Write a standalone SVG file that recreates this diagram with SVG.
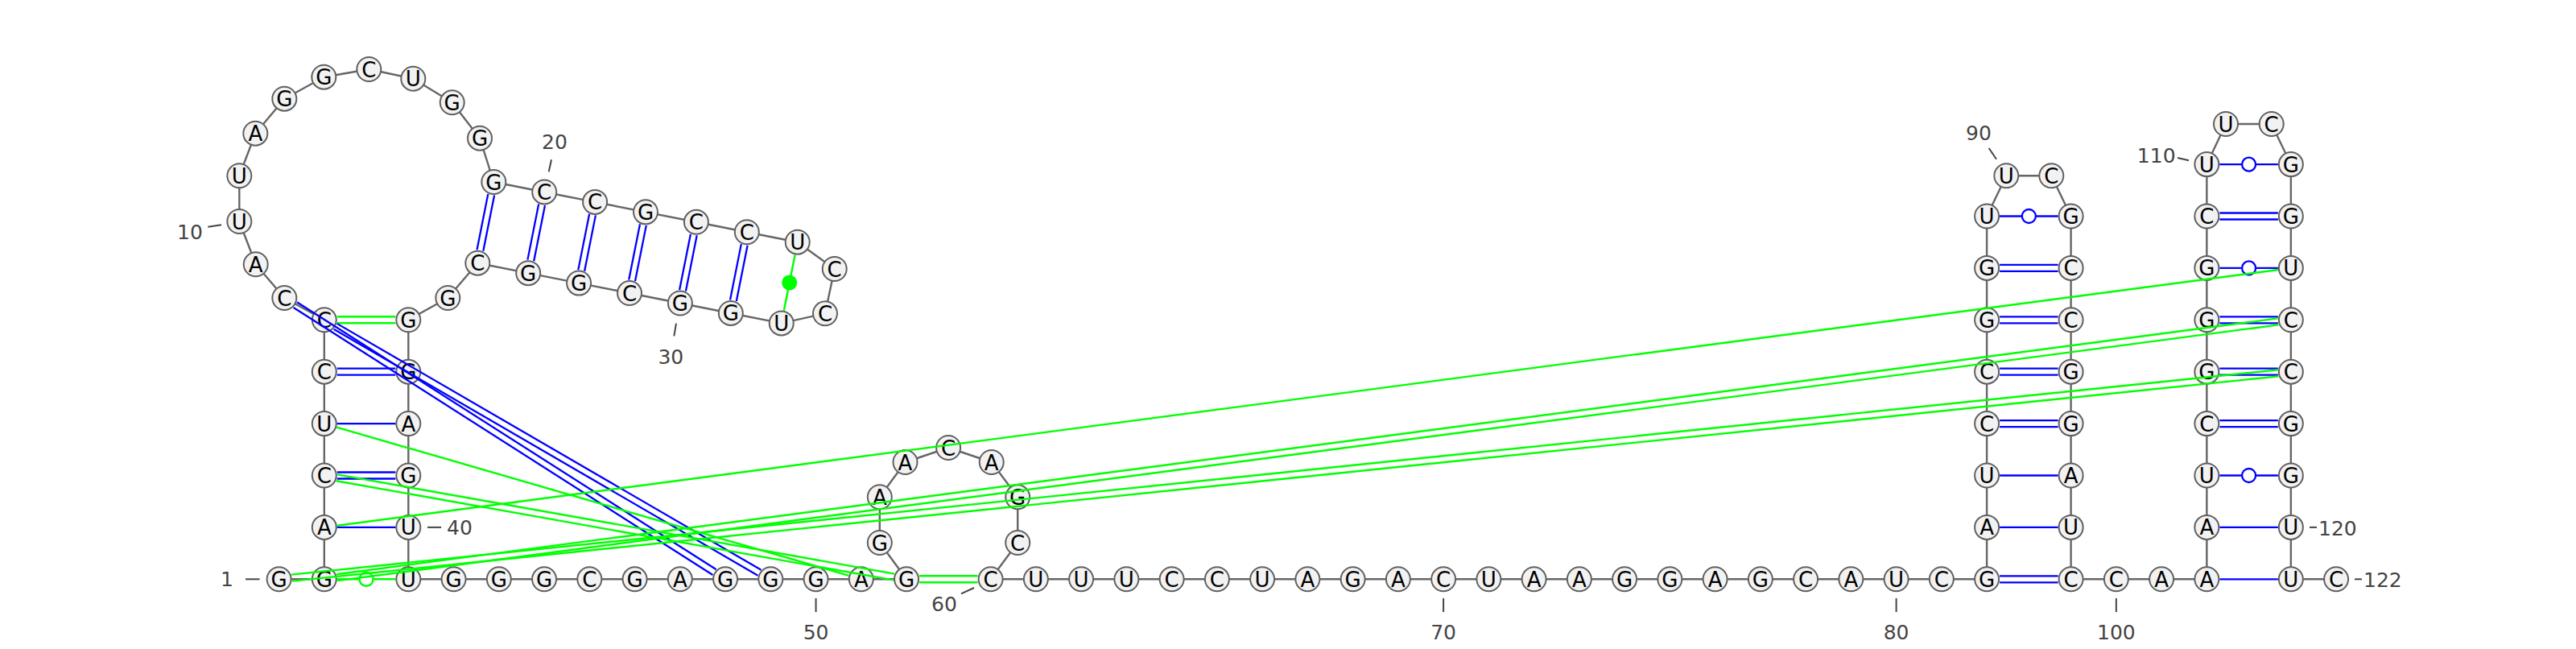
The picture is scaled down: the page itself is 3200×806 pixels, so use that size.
<svg xmlns="http://www.w3.org/2000/svg" width="3200" height="806" viewBox="0 0 3200 806">
<style>
.bb{fill:none;stroke:#666;stroke-width:2.4;stroke-linejoin:round}
.nt circle{fill:#f2f2f2;stroke:#606060;stroke-width:2}
.nt text{font-family:"DejaVu Sans",sans-serif;font-size:26px;text-anchor:middle;fill:#000}
.b{stroke:#0000ff;stroke-width:2.3;fill:none}
.g{stroke:#00ff00;stroke-width:2.4;fill:none}
.bo{stroke:#0000ff;stroke-width:2.3;fill:#fff}
.go{stroke:#00ff00;stroke-width:2.4;fill:#fff}
.gd{fill:#00ff00;stroke:none}
.lbl text{font-family:"DejaVu Sans",sans-serif;font-size:25px;fill:#444}
.lbl line{stroke:#444;stroke-width:2}
</style>
<rect width="3200" height="806" fill="#fff"/>
<g id="backbone">
<polyline class="bb" points="346.6,719.3 402.8,719.3 402.8,654.9 402.8,590.5 402.8,526.1 402.8,461.7 402.8,397.3 353.3,370 317.7,328.3 297.3,275 297.3,218.3 317.3,165.7 353.3,122.7 402.3,95.7 458.3,86 513.3,97.7 561.7,127.3 596,171.7 613.3,226 676.2,238.45 739.1,250.9 802,263.35 864.9,275.8 927.8,288.25 990.7,300.7 1036.7,334 1025,389.3 970.7,401.4 907.8,388.95 844.9,376.5 782,364.05 719.1,351.6 656.2,339.15 593.3,326.7 556.3,370 507.3,397.3 507.3,719.3 1126.05,719.3 1092.8,674 1092.8,617.3 1124.5,574 1178.1,556 1231.7,574 1264.2,617.3 1264.2,674 1230.6,719.3 2468.1,719.3 2468.1,268.5 2492.3,218.3 2548.3,218.3 2572.6,268.5 2572.6,719.3 2741.35,719.3 2741.35,204.1 2765,154 2821.7,154 2845.85,204.1 2845.85,719.3 2902.1,719.3"/>
</g>
<g id="labels" class="lbl">
<text x="282" y="728" text-anchor="middle">1</text><line x1="305" y1="719.3" x2="322.5" y2="719.3"/>
<text x="236" y="297" text-anchor="middle">10</text><line x1="258.3" y1="281.7" x2="275" y2="279.3"/>
<text x="689" y="185" text-anchor="middle">20</text><line x1="685" y1="198.3" x2="681.7" y2="213.3"/>
<text x="833.3" y="452" text-anchor="middle">30</text><line x1="840" y1="401.7" x2="837.3" y2="417.3"/>
<text x="571" y="664" text-anchor="middle">40</text><line x1="531" y1="654.9" x2="548" y2="654.9"/>
<text x="1013.55" y="794" text-anchor="middle">50</text><line x1="1013.55" y1="743" x2="1013.55" y2="760"/>
<text x="1173" y="758.5" text-anchor="middle">60</text><line x1="1194" y1="737.3" x2="1210" y2="730"/>
<text x="1793.1" y="794" text-anchor="middle">70</text><line x1="1793.1" y1="743" x2="1793.1" y2="760"/>
<text x="2355.6" y="794" text-anchor="middle">80</text><line x1="2355.6" y1="743" x2="2355.6" y2="760"/>
<text x="2458" y="174" text-anchor="middle">90</text><line x1="2470.7" y1="184" x2="2480" y2="197.7"/>
<text x="2628.85" y="794" text-anchor="middle">100</text><line x1="2628.85" y1="743" x2="2628.85" y2="760"/>
<text x="2678.7" y="201.7" text-anchor="middle">110</text><line x1="2705" y1="196" x2="2719" y2="199.3"/>
<text x="2880" y="665">120</text><line x1="2869" y1="654.9" x2="2878" y2="654.9"/>
<text x="2936" y="729">122</text><line x1="2925" y1="719.3" x2="2934" y2="719.3"/>
</g>
<g id="nodes" class="nt">
<g id="n1" transform="translate(346.6 719.3)"><circle r="15"/><text y="9.5">G</text></g>
<g id="n2" transform="translate(402.8 719.3)"><circle r="15"/><text y="9.5">G</text></g>
<g id="n3" transform="translate(402.8 654.9)"><circle r="15"/><text y="9.5">A</text></g>
<g id="n4" transform="translate(402.8 590.5)"><circle r="15"/><text y="9.5">C</text></g>
<g id="n5" transform="translate(402.8 526.1)"><circle r="15"/><text y="9.5">U</text></g>
<g id="n6" transform="translate(402.8 461.7)"><circle r="15"/><text y="9.5">C</text></g>
<g id="n7" transform="translate(402.8 397.3)"><circle r="15"/><text y="9.5">C</text></g>
<g id="n8" transform="translate(353.3 370)"><circle r="15"/><text y="9.5">C</text></g>
<g id="n9" transform="translate(317.7 328.3)"><circle r="15"/><text y="9.5">A</text></g>
<g id="n10" transform="translate(297.3 275)"><circle r="15"/><text y="9.5">U</text></g>
<g id="n11" transform="translate(297.3 218.3)"><circle r="15"/><text y="9.5">U</text></g>
<g id="n12" transform="translate(317.3 165.7)"><circle r="15"/><text y="9.5">A</text></g>
<g id="n13" transform="translate(353.3 122.7)"><circle r="15"/><text y="9.5">G</text></g>
<g id="n14" transform="translate(402.3 95.7)"><circle r="15"/><text y="9.5">G</text></g>
<g id="n15" transform="translate(458.3 86)"><circle r="15"/><text y="9.5">C</text></g>
<g id="n16" transform="translate(513.3 97.7)"><circle r="15"/><text y="9.5">U</text></g>
<g id="n17" transform="translate(561.7 127.3)"><circle r="15"/><text y="9.5">G</text></g>
<g id="n18" transform="translate(596 171.7)"><circle r="15"/><text y="9.5">G</text></g>
<g id="n19" transform="translate(613.3 226)"><circle r="15"/><text y="9.5">G</text></g>
<g id="n20" transform="translate(676.2 238.45)"><circle r="15"/><text y="9.5">C</text></g>
<g id="n21" transform="translate(739.1 250.9)"><circle r="15"/><text y="9.5">C</text></g>
<g id="n22" transform="translate(802 263.35)"><circle r="15"/><text y="9.5">G</text></g>
<g id="n23" transform="translate(864.9 275.8)"><circle r="15"/><text y="9.5">C</text></g>
<g id="n24" transform="translate(927.8 288.25)"><circle r="15"/><text y="9.5">C</text></g>
<g id="n25" transform="translate(990.7 300.7)"><circle r="15"/><text y="9.5">U</text></g>
<g id="n26" transform="translate(1036.7 334)"><circle r="15"/><text y="9.5">C</text></g>
<g id="n27" transform="translate(1025 389.3)"><circle r="15"/><text y="9.5">C</text></g>
<g id="n28" transform="translate(970.7 401.4)"><circle r="15"/><text y="9.5">U</text></g>
<g id="n29" transform="translate(907.8 388.95)"><circle r="15"/><text y="9.5">G</text></g>
<g id="n30" transform="translate(844.9 376.5)"><circle r="15"/><text y="9.5">G</text></g>
<g id="n31" transform="translate(782 364.05)"><circle r="15"/><text y="9.5">C</text></g>
<g id="n32" transform="translate(719.1 351.6)"><circle r="15"/><text y="9.5">G</text></g>
<g id="n33" transform="translate(656.2 339.15)"><circle r="15"/><text y="9.5">G</text></g>
<g id="n34" transform="translate(593.3 326.7)"><circle r="15"/><text y="9.5">C</text></g>
<g id="n35" transform="translate(556.3 370)"><circle r="15"/><text y="9.5">G</text></g>
<g id="n36" transform="translate(507.3 397.3)"><circle r="15"/><text y="9.5">G</text></g>
<g id="n37" transform="translate(507.3 461.7)"><circle r="15"/><text y="9.5">G</text></g>
<g id="n38" transform="translate(507.3 526.1)"><circle r="15"/><text y="9.5">A</text></g>
<g id="n39" transform="translate(507.3 590.5)"><circle r="15"/><text y="9.5">G</text></g>
<g id="n40" transform="translate(507.3 654.9)"><circle r="15"/><text y="9.5">U</text></g>
<g id="n41" transform="translate(507.3 719.3)"><circle r="15"/><text y="9.5">U</text></g>
<g id="n42" transform="translate(563.55 719.3)"><circle r="15"/><text y="9.5">G</text></g>
<g id="n43" transform="translate(619.8 719.3)"><circle r="15"/><text y="9.5">G</text></g>
<g id="n44" transform="translate(676.05 719.3)"><circle r="15"/><text y="9.5">G</text></g>
<g id="n45" transform="translate(732.3 719.3)"><circle r="15"/><text y="9.5">C</text></g>
<g id="n46" transform="translate(788.55 719.3)"><circle r="15"/><text y="9.5">G</text></g>
<g id="n47" transform="translate(844.8 719.3)"><circle r="15"/><text y="9.5">A</text></g>
<g id="n48" transform="translate(901.05 719.3)"><circle r="15"/><text y="9.5">G</text></g>
<g id="n49" transform="translate(957.3 719.3)"><circle r="15"/><text y="9.5">G</text></g>
<g id="n50" transform="translate(1013.55 719.3)"><circle r="15"/><text y="9.5">G</text></g>
<g id="n51" transform="translate(1069.8 719.3)"><circle r="15"/><text y="9.5">A</text></g>
<g id="n52" transform="translate(1126.05 719.3)"><circle r="15"/><text y="9.5">G</text></g>
<g id="n53" transform="translate(1092.8 674)"><circle r="15"/><text y="9.5">G</text></g>
<g id="n54" transform="translate(1092.8 617.3)"><circle r="15"/><text y="9.5">A</text></g>
<g id="n55" transform="translate(1124.5 574)"><circle r="15"/><text y="9.5">A</text></g>
<g id="n56" transform="translate(1178.1 556)"><circle r="15"/><text y="9.5">C</text></g>
<g id="n57" transform="translate(1231.7 574)"><circle r="15"/><text y="9.5">A</text></g>
<g id="n58" transform="translate(1264.2 617.3)"><circle r="15"/><text y="9.5">G</text></g>
<g id="n59" transform="translate(1264.2 674)"><circle r="15"/><text y="9.5">C</text></g>
<g id="n60" transform="translate(1230.6 719.3)"><circle r="15"/><text y="9.5">C</text></g>
<g id="n61" transform="translate(1286.85 719.3)"><circle r="15"/><text y="9.5">U</text></g>
<g id="n62" transform="translate(1343.1 719.3)"><circle r="15"/><text y="9.5">U</text></g>
<g id="n63" transform="translate(1399.35 719.3)"><circle r="15"/><text y="9.5">U</text></g>
<g id="n64" transform="translate(1455.6 719.3)"><circle r="15"/><text y="9.5">C</text></g>
<g id="n65" transform="translate(1511.85 719.3)"><circle r="15"/><text y="9.5">C</text></g>
<g id="n66" transform="translate(1568.1 719.3)"><circle r="15"/><text y="9.5">U</text></g>
<g id="n67" transform="translate(1624.35 719.3)"><circle r="15"/><text y="9.5">A</text></g>
<g id="n68" transform="translate(1680.6 719.3)"><circle r="15"/><text y="9.5">G</text></g>
<g id="n69" transform="translate(1736.85 719.3)"><circle r="15"/><text y="9.5">A</text></g>
<g id="n70" transform="translate(1793.1 719.3)"><circle r="15"/><text y="9.5">C</text></g>
<g id="n71" transform="translate(1849.35 719.3)"><circle r="15"/><text y="9.5">U</text></g>
<g id="n72" transform="translate(1905.6 719.3)"><circle r="15"/><text y="9.5">A</text></g>
<g id="n73" transform="translate(1961.85 719.3)"><circle r="15"/><text y="9.5">A</text></g>
<g id="n74" transform="translate(2018.1 719.3)"><circle r="15"/><text y="9.5">G</text></g>
<g id="n75" transform="translate(2074.35 719.3)"><circle r="15"/><text y="9.5">G</text></g>
<g id="n76" transform="translate(2130.6 719.3)"><circle r="15"/><text y="9.5">A</text></g>
<g id="n77" transform="translate(2186.85 719.3)"><circle r="15"/><text y="9.5">G</text></g>
<g id="n78" transform="translate(2243.1 719.3)"><circle r="15"/><text y="9.5">C</text></g>
<g id="n79" transform="translate(2299.35 719.3)"><circle r="15"/><text y="9.5">A</text></g>
<g id="n80" transform="translate(2355.6 719.3)"><circle r="15"/><text y="9.5">U</text></g>
<g id="n81" transform="translate(2411.85 719.3)"><circle r="15"/><text y="9.5">C</text></g>
<g id="n82" transform="translate(2468.1 719.3)"><circle r="15"/><text y="9.5">G</text></g>
<g id="n83" transform="translate(2468.1 654.9)"><circle r="15"/><text y="9.5">A</text></g>
<g id="n84" transform="translate(2468.1 590.5)"><circle r="15"/><text y="9.5">U</text></g>
<g id="n85" transform="translate(2468.1 526.1)"><circle r="15"/><text y="9.5">C</text></g>
<g id="n86" transform="translate(2468.1 461.7)"><circle r="15"/><text y="9.5">C</text></g>
<g id="n87" transform="translate(2468.1 397.3)"><circle r="15"/><text y="9.5">G</text></g>
<g id="n88" transform="translate(2468.1 332.9)"><circle r="15"/><text y="9.5">G</text></g>
<g id="n89" transform="translate(2468.1 268.5)"><circle r="15"/><text y="9.5">U</text></g>
<g id="n90" transform="translate(2492.3 218.3)"><circle r="15"/><text y="9.5">U</text></g>
<g id="n91" transform="translate(2548.3 218.3)"><circle r="15"/><text y="9.5">C</text></g>
<g id="n92" transform="translate(2572.6 268.5)"><circle r="15"/><text y="9.5">G</text></g>
<g id="n93" transform="translate(2572.6 332.9)"><circle r="15"/><text y="9.5">C</text></g>
<g id="n94" transform="translate(2572.6 397.3)"><circle r="15"/><text y="9.5">C</text></g>
<g id="n95" transform="translate(2572.6 461.7)"><circle r="15"/><text y="9.5">G</text></g>
<g id="n96" transform="translate(2572.6 526.1)"><circle r="15"/><text y="9.5">G</text></g>
<g id="n97" transform="translate(2572.6 590.5)"><circle r="15"/><text y="9.5">A</text></g>
<g id="n98" transform="translate(2572.6 654.9)"><circle r="15"/><text y="9.5">U</text></g>
<g id="n99" transform="translate(2572.6 719.3)"><circle r="15"/><text y="9.5">C</text></g>
<g id="n100" transform="translate(2628.85 719.3)"><circle r="15"/><text y="9.5">C</text></g>
<g id="n101" transform="translate(2685.1 719.3)"><circle r="15"/><text y="9.5">A</text></g>
<g id="n102" transform="translate(2741.35 719.3)"><circle r="15"/><text y="9.5">A</text></g>
<g id="n103" transform="translate(2741.35 654.9)"><circle r="15"/><text y="9.5">A</text></g>
<g id="n104" transform="translate(2741.35 590.5)"><circle r="15"/><text y="9.5">U</text></g>
<g id="n105" transform="translate(2741.35 526.1)"><circle r="15"/><text y="9.5">C</text></g>
<g id="n106" transform="translate(2741.35 461.7)"><circle r="15"/><text y="9.5">G</text></g>
<g id="n107" transform="translate(2741.35 397.3)"><circle r="15"/><text y="9.5">G</text></g>
<g id="n108" transform="translate(2741.35 332.9)"><circle r="15"/><text y="9.5">G</text></g>
<g id="n109" transform="translate(2741.35 268.5)"><circle r="15"/><text y="9.5">C</text></g>
<g id="n110" transform="translate(2741.35 204.1)"><circle r="15"/><text y="9.5">U</text></g>
<g id="n111" transform="translate(2765 154)"><circle r="15"/><text y="9.5">U</text></g>
<g id="n112" transform="translate(2821.7 154)"><circle r="15"/><text y="9.5">C</text></g>
<g id="n113" transform="translate(2845.85 204.1)"><circle r="15"/><text y="9.5">G</text></g>
<g id="n114" transform="translate(2845.85 268.5)"><circle r="15"/><text y="9.5">G</text></g>
<g id="n115" transform="translate(2845.85 332.9)"><circle r="15"/><text y="9.5">U</text></g>
<g id="n116" transform="translate(2845.85 397.3)"><circle r="15"/><text y="9.5">C</text></g>
<g id="n117" transform="translate(2845.85 461.7)"><circle r="15"/><text y="9.5">C</text></g>
<g id="n118" transform="translate(2845.85 526.1)"><circle r="15"/><text y="9.5">G</text></g>
<g id="n119" transform="translate(2845.85 590.5)"><circle r="15"/><text y="9.5">G</text></g>
<g id="n120" transform="translate(2845.85 654.9)"><circle r="15"/><text y="9.5">U</text></g>
<g id="n121" transform="translate(2845.85 719.3)"><circle r="15"/><text y="9.5">U</text></g>
<g id="n122" transform="translate(2902.1 719.3)"><circle r="15"/><text y="9.5">C</text></g>
</g>
<g id="connectors">
<!-- left helix 2-41 -->
<line class="g" x1="418.8" y1="719.3" x2="491.3" y2="719.3"/><circle class="go" cx="455" cy="719.3" r="8.5"/>
<line class="b" x1="418.8" y1="654.9" x2="491.3" y2="654.9"/>
<line class="b" x1="418.8" y1="586.5" x2="491.3" y2="586.5"/><line class="b" x1="418.8" y1="594.5" x2="491.3" y2="594.5"/>
<line class="b" x1="418.8" y1="526.1" x2="491.3" y2="526.1"/>
<line class="b" x1="418.8" y1="457.7" x2="491.3" y2="457.7"/><line class="b" x1="418.8" y1="465.7" x2="491.3" y2="465.7"/>
<line class="g" x1="418.8" y1="393.3" x2="491.3" y2="393.3"/><line class="g" x1="418.8" y1="401.3" x2="491.3" y2="401.3"/>
<!-- hairpin 19-34 -->
<line class="b" x1="606.3" y1="240.9" x2="592.5" y2="310.2"/><line class="b" x1="614.1" y1="242.5" x2="600.3" y2="311.8"/>
<line class="b" x1="669.2" y1="253.35" x2="655.4" y2="322.65"/><line class="b" x1="677" y1="254.95" x2="663.2" y2="324.25"/>
<line class="b" x1="732.1" y1="265.8" x2="718.3" y2="335.1"/><line class="b" x1="739.9" y1="267.4" x2="726.1" y2="336.7"/>
<line class="b" x1="795" y1="278.25" x2="781.2" y2="347.55"/><line class="b" x1="802.8" y1="279.85" x2="789" y2="349.15"/>
<line class="b" x1="857.9" y1="290.7" x2="844.1" y2="360"/><line class="b" x1="865.7" y1="292.3" x2="851.9" y2="361.6"/>
<line class="b" x1="920.8" y1="303.15" x2="907" y2="372.45"/><line class="b" x1="928.6" y1="304.75" x2="914.8" y2="374.05"/>
<line class="g" x1="987.6" y1="316.4" x2="973.8" y2="385.7"/><circle class="gd" cx="980.7" cy="351.05" r="9.5"/>
<!-- hairpin 52-60 -->
<line class="g" x1="1142.05" y1="715.3" x2="1214.6" y2="715.3"/><line class="g" x1="1142.05" y1="723.3" x2="1214.6" y2="723.3"/>
<!-- stem 82-99 -->
<line class="b" x1="2484.1" y1="715.3" x2="2556.6" y2="715.3"/><line class="b" x1="2484.1" y1="723.3" x2="2556.6" y2="723.3"/>
<line class="b" x1="2484.1" y1="654.9" x2="2556.6" y2="654.9"/>
<line class="b" x1="2484.1" y1="590.5" x2="2556.6" y2="590.5"/>
<line class="b" x1="2484.1" y1="522.1" x2="2556.6" y2="522.1"/><line class="b" x1="2484.1" y1="530.1" x2="2556.6" y2="530.1"/>
<line class="b" x1="2484.1" y1="457.7" x2="2556.6" y2="457.7"/><line class="b" x1="2484.1" y1="465.7" x2="2556.6" y2="465.7"/>
<line class="b" x1="2484.1" y1="393.3" x2="2556.6" y2="393.3"/><line class="b" x1="2484.1" y1="401.3" x2="2556.6" y2="401.3"/>
<line class="b" x1="2484.1" y1="328.9" x2="2556.6" y2="328.9"/><line class="b" x1="2484.1" y1="336.9" x2="2556.6" y2="336.9"/>
<line class="b" x1="2484.1" y1="268.5" x2="2556.6" y2="268.5"/><circle class="bo" cx="2520.35" cy="268.5" r="8.5"/>
<!-- stem 102-121 -->
<line class="b" x1="2757.35" y1="719.3" x2="2829.85" y2="719.3"/>
<line class="b" x1="2757.35" y1="654.9" x2="2829.85" y2="654.9"/>
<line class="b" x1="2757.35" y1="590.5" x2="2829.85" y2="590.5"/><circle class="bo" cx="2793.6" cy="590.5" r="8.5"/>
<line class="b" x1="2757.35" y1="522.1" x2="2829.85" y2="522.1"/><line class="b" x1="2757.35" y1="530.1" x2="2829.85" y2="530.1"/>
<line class="b" x1="2757.35" y1="457.7" x2="2829.85" y2="457.7"/><line class="b" x1="2757.35" y1="465.7" x2="2829.85" y2="465.7"/>
<line class="b" x1="2757.35" y1="393.3" x2="2829.85" y2="393.3"/><line class="b" x1="2757.35" y1="401.3" x2="2829.85" y2="401.3"/>
<line class="b" x1="2757.35" y1="332.9" x2="2829.85" y2="332.9"/><circle class="bo" cx="2793.6" cy="332.9" r="8.5"/>
<line class="b" x1="2757.35" y1="264.5" x2="2829.85" y2="264.5"/><line class="b" x1="2757.35" y1="272.5" x2="2829.85" y2="272.5"/>
<line class="b" x1="2757.35" y1="204.1" x2="2829.85" y2="204.1"/><circle class="bo" cx="2793.6" cy="204.1" r="8.5"/>
<!-- pseudoknot 7-8 / 48-49 -->
<line class="b" x1="364.64" y1="381.97" x2="885.41" y2="714.07"/><line class="b" x1="368.94" y1="375.23" x2="889.71" y2="707.33"/>
<line class="b" x1="414.63" y1="408.79" x2="941.45" y2="714.73"/><line class="b" x1="418.65" y1="401.87" x2="945.47" y2="707.81"/>
<!-- tertiary 4-5 / 51-52 -->
<line class="g" x1="418.17" y1="530.55" x2="1054.43" y2="714.85"/>
<line class="g" x1="419.25" y1="589.36" x2="1111" y2="712.56"/><line class="g" x1="417.85" y1="597.24" x2="1109.6" y2="720.44"/>
<!-- tertiary 1-3 / 115-117 -->
<line class="g" x1="418.7" y1="652.8" x2="2830" y2="335"/>
<line class="g" x1="362.1" y1="713.68" x2="2829.52" y2="459.36"/><line class="g" x1="362.9" y1="721.64" x2="2830.34" y2="467.32"/>
<line class="g" x1="418.14" y1="713.24" x2="2829.47" y2="395.42"/><line class="g" x1="419.18" y1="721.18" x2="2830.51" y2="403.36"/>
</g>
</svg>
